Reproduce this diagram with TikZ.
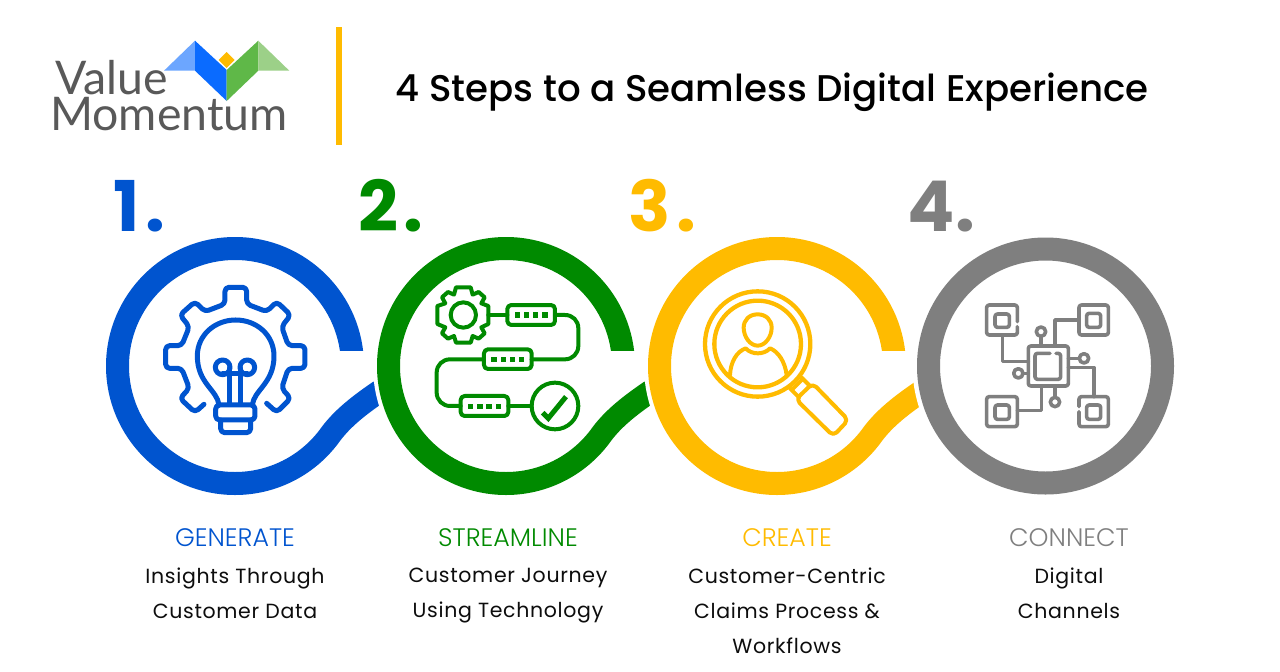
\documentclass[tikz,border=0pt]{standalone}
\usepackage{fontspec}
\setmainfont{Poppins}
\newfontfamily\pmed{Poppins Medium}
\newfontfamily\plight{Poppins Light}
\newfontfamily\logofont{Lato}
\definecolor{cblue}{HTML}{0054CF}
\definecolor{cgreen}{HTML}{008A00}
\definecolor{cyel}{HTML}{FFBB00}
\definecolor{cgray}{HTML}{7F7F7F}
\newcommand{\ringpath}[3]{%
  \draw[line width=23pt,#1,line cap=butt] (#2+117.5,366) arc[start angle=0,end angle=-323,x radius=117.5,y radius=117.5]
   .. controls (#2+105,421) and (#2+120,408) .. (#2+#3,391);
  \fill[white] (#2+100,351) rectangle (#2+132,368);
}
\tikzset{
  stepnum/.style={inner sep=0pt,anchor=base west,font=\fontsize{70}{70}\selectfont\bfseries\addfontfeatures{LetterSpace=#1}},
  stepnum/.default=8,
  head/.style={inner sep=0pt,font=\plight\fontsize{25.3}{28}\selectfont,anchor=center},
  body/.style={inner sep=0pt,font=\fontsize{20.5}{35}\selectfont\addfontfeatures{LetterSpace=3.3},align=center,text=black!95,anchor=north},
  ic/.style={line width=#1,line join=round,line cap=round},
}
\begin{document}
\begin{tikzpicture}[x=1pt,y=-1pt]
\useasboundingbox[fill=white] (0,0) rectangle (1280,672);
% logo
\fill[color={rgb,255:red,108;green,166;blue,255}] (164,70.7)--(195,40.7)--(195,70.7)--cycle;
\fill[color={rgb,255:red,10;green,107;blue,255}] (195,40.7)--(226.7,70)--(226.7,101)--(195,70.7)--cycle;
\fill[color={rgb,255:red,95;green,184;blue,72}] (226.7,70)--(258.3,40.7)--(258.3,70.7)--(226.7,101)--cycle;
\fill[color={rgb,255:red,156;green,208;blue,136}] (258.3,40.7)--(289.3,70.7)--(258.3,70.7)--cycle;
\fill[cyel] (226.7,52)--(234.7,60)--(226.7,68)--(218.7,60)--cycle;
\node[inner sep=0pt,anchor=south west,align=left,text={black!65},font=\logofont\fontsize{46.4}{36}\selectfont] (logo) at (50,131) {\hspace*{5pt}Value\\Momentum};
\fill[cyel] (336,27) rectangle (342,145);
\node[inner sep=0pt,anchor=base west,font=\pmed\fontsize{37.15}{37}\selectfont] (title) at (395.5,101) {4 Steps to a Seamless Digital Experience};
% numbers
\node[stepnum,text=cblue] (n1) at (113,231) {1.};
\node[stepnum,text=cgreen] (n2) at (358,231) {2.};
\node[stepnum,text=cyel] (n3) at (628,231) {3.};
\node[stepnum=1,text=cgray] (n4) at (907,231) {4.};
% rings
\ringpath{cblue}{235}{145}
\fill[white] (506,366) circle (133);
\ringpath{cgreen}{506}{145}
\fill[white] (777,366) circle (133);
\ringpath{cyel}{777}{145}
\fill[white] (1045.5,366) circle (133);
\draw[cgray,line width=23pt] (1045.5,366) circle (117);
% icon 1
\begin{scope}[shift={(100,230)},x=0.3333pt,y=-0.3333pt]
\draw[cblue,ic=5pt,rounded corners=4pt] (312,523)--(285,547)--(240,505)--(268,475)--(245,415)--(197,415)--(197,347)--(245,347)--(268,290)--(240,255)--(285,215)--(315,245)--(375,222)--(375,172)--(440,172)--(440,222)--(500,245)--(530,215)--(572,255)--(545,290)--(565,347)--(615,347)--(615,415)--(565,415)--(545,475)--(572,505)--(530,547)--(500,520);
\draw[cblue,ic=5pt] (357,525) .. controls (352,480) and (292,460) .. (292,378) .. controls (292,315) and (345,270) .. (407,270) .. controls (470,270) and (522,315) .. (522,378) .. controls (522,460) and (462,480) .. (457,525);
\draw[cblue,ic=5pt,rounded corners=4pt] (347,525) rectangle (465,570);
\draw[cblue,ic=5pt,rounded corners=4pt] (362,570) -- (362,608) -- (452,608) -- (452,570);
\draw[cblue,ic=5pt] (368,412) circle (22);
\draw[cblue,ic=5pt] (442,412) circle (22);
\draw[cblue,ic=5pt] (368,432) -- (442,432);
\draw[cblue,ic=5pt] (388,415) -- (388,523);
\draw[cblue,ic=5pt] (422,415) -- (422,523);
\end{scope}
% icon 2
\begin{scope}[shift={(420,270)},x=0.3333pt,y=-0.3333pt]
\draw[cgreen,ic=4pt,miter limit=2] plot[samples=1] coordinates {(130,52)(152,52)(158,74)(176,66)(194,82)(184,100)(205,108)(205,132)(205,162)(184,172)(194,190)(176,206)(158,198)(152,218)(130,218)(108,218)(102,198)(84,206)(66,190)(76,172)(52,162)(52,132)(52,108)(76,100)(66,82)(84,66)(102,74)(108,52)} -- cycle;
\draw[cgreen,ic=4pt] (130,135) circle (38);
\draw[cgreen,ic=4pt,rounded corners=4pt] (262,105) rectangle (405,165);
\draw[cgreen,ic=4pt,rounded corners=4pt] (192,238) rectangle (335,297);
\draw[cgreen,ic=4pt,rounded corners=4pt] (122,378) rectangle (265,438);
\foreach \xx/\yy in {292/135,320/135,347/135,375/135,222/268,250/268,277/268,305/268,152/410,180/410,207/410,235/410}
  \fill[cgreen] (\xx-8,\yy-8) rectangle (\xx+8,\yy+8);
\draw[cgreen,ic=4pt] (205,135)--(262,135);
\draw[cgreen,ic=4pt] (405,135)--(435,135) .. controls (458,135) and (475,152) .. (475,175) -- (475,228) .. controls (475,250) and (458,268) .. (435,268) -- (335,268);
\draw[cgreen,ic=4pt] (192,268)--(90,268) .. controls (68,268) and (50,285) .. (50,308) -- (50,368) .. controls (50,390) and (68,408) .. (90,408) -- (122,408);
\draw[cgreen,ic=4pt] (265,408)--(335,408);
\draw[cgreen,ic=4pt] (405,408) circle (70);
\draw[cgreen,line width=5pt] (368,428)--(385,445)--(438,380);
\end{scope}
% icon 3
\begin{scope}[shift={(690,280)},x=0.3333pt,y=-0.3333pt]
\draw[cyel,ic=4.3pt] (203,192) circle (158);
\draw[cyel,ic=4.3pt] (203,192) circle (130);
\draw[cyel,ic=4pt] (203,103) .. controls (178,103) and (161,120) .. (161,143) .. controls (161,170) and (180,197) .. (203,197) .. controls (226,197) and (245,170) .. (245,143) .. controls (245,120) and (228,103) .. (203,103) -- cycle;
\draw[cyel,ic=4pt] (120,285) .. controls (122,245) and (140,215) .. (167,205) .. controls (185,225) and (222,225) .. (240,205) .. controls (265,215) and (285,245) .. (290,285);
\draw[cyel,ic=4pt] (300,325)--(325,350);
\draw[cyel,ic=4pt] (335,293)--(360,318);
\draw[cyel,ic=4pt] (308,327)--(338,297);
\draw[cyel,ic=4pt,rounded corners=5pt] (318,358)--(368,310)--(475,420)--(430,468)--cycle;
\end{scope}
% icon 4
\begin{scope}[shift={(970,290)},x=0.3333pt,y=-0.3333pt]
\tikzset{ig/.style={cgray,ic=3.6pt,rounded corners=2.5pt}}
\draw[ig] (175,168) rectangle (295,288);
\draw[ig] (240,190)--(195,190)--(195,268)--(272,268)--(272,190)--(258,190);
\draw[ig] (142,95)--(142,45)--(50,45)--(50,135)--(142,135)--(142,110);
\draw[ig] (75,72) rectangle (118,112);
\draw[ig] (327,45) rectangle (415,135);
\draw[ig] (350,70) rectangle (392,112);
\draw[ig] (50,320) rectangle (142,410);
\draw[ig] (75,345) rectangle (118,388);
\draw[ig] (327,350)--(327,320)--(415,320)--(415,410)--(327,410)--(327,365);
\draw[ig] (350,345) rectangle (392,388);
\draw[ig,rounded corners=0pt] (97,135)--(97,215)--(175,215);
\draw[ig,rounded corners=0pt] (327,90)--(255,90)--(255,168);
\draw[ig,rounded corners=0pt] (213,168)--(213,140);
\draw[ig,rounded corners=0pt] (213,125) circle (14);
\draw[ig,rounded corners=0pt] (295,205)--(328,205);
\draw[ig,rounded corners=0pt] (342,205) circle (14);
\draw[ig,rounded corners=0pt] (295,233)--(372,233)--(372,320);
\draw[ig,rounded corners=0pt] (175,250)--(158,250);
\draw[ig,rounded corners=0pt] (145,250) circle (14);
\draw[ig,rounded corners=0pt] (215,288)--(215,362)--(142,362);
\draw[ig,rounded corners=0pt] (255,288)--(255,322);
\draw[ig,rounded corners=0pt] (255,336) circle (14);
\end{scope}
% labels
\node[head,text=cblue] (h1) at (235,538) {GENERATE};
\node[head,text=cgreen] (h2) at (508,538) {STREAMLINE};
\node[head,text=cyel] (h3) at (787,538) {CREATE};
\node[head,text=cgray] (h4) at (1069,538) {CONNECT};
\node[body] (b1) at (235,567.5) {Insights Through\\Customer Data};
\node[body] (b2) at (508,567.5) {Customer Journey\\Using Technology};
\node[body] (b3) at (787,567.5) {Customer-Centric\\Claims Process \&\\Workflows};
\node[body] (b4) at (1069,567.5) {Digital\\Channels};
\end{tikzpicture}
\end{document}
